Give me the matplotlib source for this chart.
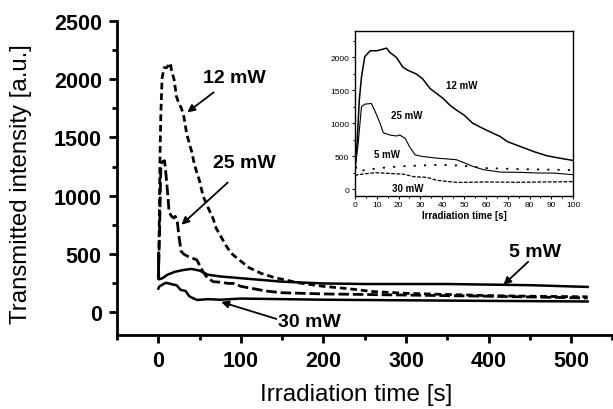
import matplotlib
matplotlib.use("Agg")
import matplotlib.pyplot as plt
from matplotlib.ticker import MultipleLocator

plt.rcParams['font.family'] = ['Liberation Sans', 'DejaVu Sans']

# ---- data (time in s, transmitted intensity in a.u.) ----
t_12 = [0, 1, 2, 3, 4.5, 7, 10, 13, 14.5, 16, 19, 22, 24.5, 28, 31, 34.5, 37.5, 40.5,
        43.5, 46.5, 50, 54, 60, 66.5, 70, 76, 82, 88, 94, 100, 110, 125, 142, 170,
        200, 230, 260, 300, 350, 400, 450, 520]
v_12 = [280, 700, 1350, 1700, 2010, 2100, 2100, 2125, 2140, 2075, 2000, 1850, 1800,
        1750, 1675, 1525, 1450, 1375, 1275, 1200, 1125, 1000, 900, 800, 720, 645,
        570, 507, 470, 436, 380, 330, 293, 250, 220, 200, 175, 160, 150, 140, 135, 130]

t_25 = [0, 1.5, 3, 4.5, 7.5, 9, 11.5, 13, 16, 19, 20.5, 23, 25, 27.5, 31, 37.5, 43.5,
        46.5, 50.5, 54, 59, 66.5, 76, 85, 91, 100, 130, 150, 200, 250, 300, 400, 520]
v_25 = [280, 700, 1250, 1290, 1300, 1200, 1000, 857, 822, 807, 822, 772, 647, 522,
        496, 471, 456, 447, 396, 346, 296, 260, 255, 245, 245, 220, 180, 165, 155,
        150, 145, 135, 120]

t_5 = [0, 0.7, 5, 11, 20, 30, 40, 50, 60, 75, 100, 150, 200, 250, 300, 350, 400, 450, 520]
v_5 = [500, 280, 290, 320, 345, 360, 370, 355, 320, 305, 290, 260, 245, 240, 240,
       240, 235, 230, 215]

t_30 = [0, 1, 5, 9, 13, 18, 22, 27, 33, 37.5, 42, 47, 60, 75, 100, 150, 200, 300, 400, 520]
v_30 = [200, 218, 235, 250, 245, 235, 230, 190, 180, 135, 118, 103, 110, 105, 115,
        110, 105, 100, 95, 90]

labels = ["12 mW", "25 mW", "5 mW", "30 mW"]

# ---- figure ----
fig = plt.figure(figsize=(6.13, 4.10), dpi=100)
ax = fig.add_axes([0.191, 0.180, 0.808, 0.766])

lw_main = 1.8
ax.plot(t_12, v_12, color='k', lw=2.0, linestyle=(0, (2.4, 1.4)))
ax.plot(t_25, v_25, color='k', lw=2.0, linestyle=(0, (3.8, 1.4)))
ax.plot(t_5, v_5, color='k', lw=lw_main)
ax.plot(t_30, v_30, color='k', lw=lw_main)

ax.set_xlim(-50, 550)
ax.set_ylim(-200, 2500)
ax.xaxis.set_major_locator(MultipleLocator(100))
ax.xaxis.set_minor_locator(MultipleLocator(50))
ax.yaxis.set_major_locator(MultipleLocator(500))
ax.yaxis.set_minor_locator(MultipleLocator(250))
ax.set_xticks([0, 100, 200, 300, 400, 500])
ax.set_yticks([0, 500, 1000, 1500, 2000, 2500])

for s in ['top', 'right']:
    ax.spines[s].set_visible(False)
for s in ['left', 'bottom']:
    ax.spines[s].set_linewidth(2.0)
ax.tick_params(which='major', direction='out', length=6, width=2.0, labelsize=15.5, pad=5)
ax.tick_params(which='minor', direction='out', length=3.5, width=2.0)
for lab in ax.get_xticklabels() + ax.get_yticklabels():
    lab.set_fontweight('bold')

ax.set_xlabel("Irradiation time [s]", fontsize=17.5, va='center')
ax.set_ylabel("Transmitted intensity [a.u.]", fontsize=17.3, va='center')
ax.xaxis.set_label_coords(0.483, -0.188)
ax.yaxis.set_label_coords(-0.194, 0.484)

arrow = dict(arrowstyle='-|>', color='k', lw=1.3, mutation_scale=11, shrinkA=0, shrinkB=0)
tk = dict(fontsize=14, fontweight='bold', ha='center', va='center')
ax.annotate("", xy=(35, 1716), xytext=(67, 1888), arrowprops=arrow)
ax.text(92, 2017, labels[0], **tk)
ax.annotate("", xy=(28, 750), xytext=(84, 1112), arrowprops=arrow)
ax.text(104, 1284, labels[1], **tk)
ax.annotate("", xy=(76, 86), xytext=(143, -60), arrowprops=arrow)
ax.text(183, -78, labels[3], **tk)
ax.annotate("", xy=(418, 233), xytext=(448, 431), arrowprops=arrow)
ax.text(456, 517, labels[2], **tk)

# ---- inset ----
ins = fig.add_axes([0.579, 0.520, 0.356, 0.402])
ins.plot(t_12, v_12, color='k', lw=1.1)
ins.plot(t_25, v_25, color='k', lw=0.8)
ins.plot(t_5, v_5, color='k', lw=1.3, linestyle=(0, (1.2, 4.5)))
ins.plot(t_30, v_30, color='k', lw=0.9, linestyle=(0, (3, 1.2)))
ins.set_xlim(0, 100)
ins.set_ylim(-100, 2400)
ins.xaxis.set_major_locator(MultipleLocator(10))
ins.xaxis.set_minor_locator(MultipleLocator(5))
ins.yaxis.set_major_locator(MultipleLocator(500))
ins.yaxis.set_minor_locator(MultipleLocator(250))
for s in ins.spines.values():
    s.set_linewidth(1.0)
ins.tick_params(which='major', direction='out', length=2.5, width=0.8, labelsize=6, pad=1.5)
ins.tick_params(which='minor', direction='out', length=1.5, width=0.8)
ins.set_xlabel("Irradiation time [s]", fontsize=7, fontweight='bold', labelpad=1)
ti = dict(fontsize=7, fontweight='bold', ha='center', va='center')
ins.text(49, 1579, labels[0], **ti)
ins.text(23.7, 1128, labels[1], **ti)
ins.text(14.8, 541, labels[2], **ti)
ins.text(24, 25, labels[3], **ti)

fig.savefig("out.png", dpi=100)
